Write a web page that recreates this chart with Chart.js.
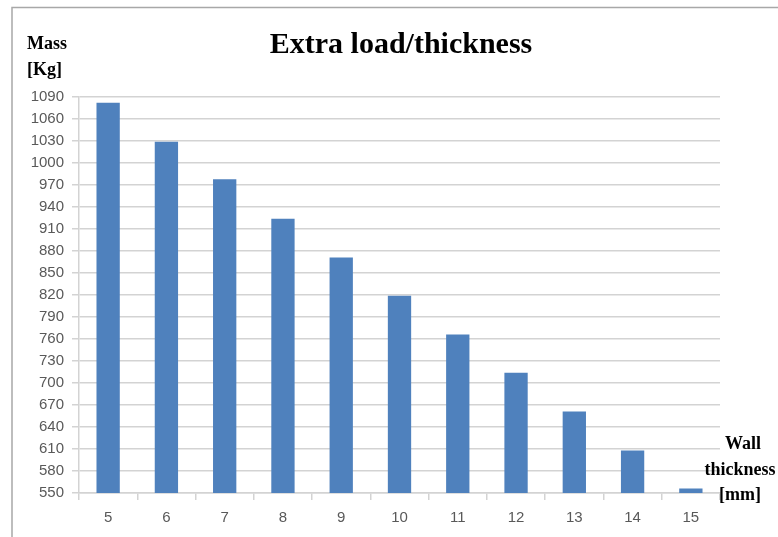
<!DOCTYPE html>
<html>
<head>
<meta charset="utf-8">
<script src="https://cdn.jsdelivr.net/npm/chart.js@4"></script>
<style>
    html, body { margin: 0; padding: 0; background: #ffffff; }
    #wrap { position: relative; width: 778px; height: 537px; }
</style>
</head>
<body>
<div id="wrap"><canvas id="myChart" width="778" height="537"></canvas></div>
<script>
// wall thickness [mm] on x, extra mass [Kg] on y
const thickness = ['5', '6', '7', '8', '9', '10', '11', '12', '13', '14', '15'];
const extraMass = [1082, 1029, 978, 924, 871, 819, 766, 714, 661, 608, 556];
const massMin = 550;
const massMax = 1090;
const massStep = 30;

const titleText = 'Extra load/thickness';
const yTitleLines = ['Mass', '[Kg]'];
const xTitleLines = ['Wall', 'thickness', '[mm]'];

const gridColor = '#d3d3d3';
const tickColor = '#595959';

// frame, title and axis captions drawn straight on the canvas
const decorations = {
    id: 'decorations',
    beforeDraw(chart) {
        const c = chart.ctx;
        c.save();
        c.fillStyle = '#ffffff';
        c.fillRect(0, 0, chart.width, chart.height);
        c.strokeStyle = '#a8a8a8';
        c.lineWidth = 1.5;
        c.beginPath();
        c.moveTo(12, chart.height);
        c.lineTo(12, 7.5);
        c.lineTo(chart.width, 7.5);
        c.stroke();
        c.restore();
    },
    afterDraw(chart) {
        const c = chart.ctx;
        c.save();
        c.fillStyle = '#000000';
        c.textBaseline = 'middle';

        c.font = 'bold 30px "Liberation Serif"';
        c.textAlign = 'center';
        c.fillText(titleText, 401, 45);

        c.font = 'bold 18px "Liberation Serif"';
        c.textAlign = 'left';
        c.fillText(yTitleLines[0], 27, 44);
        c.fillText(yTitleLines[1], 27, 70);

        c.textAlign = 'center';
        c.fillText(xTitleLines[0], 743, 444);
        c.fillText(xTitleLines[1], 740, 470);
        c.fillText(xTitleLines[2], 740, 495);
        c.restore();
    }
};

window.onload = () => {
    const ctx = document.getElementById('myChart');
    window.chart = new Chart(ctx, {
        type: 'bar',
        data: {
            labels: thickness,
            datasets: [
                {
                    label: 'Extra load',
                    data: extraMass,
                    backgroundColor: '#4f81bd',
                    borderWidth: 0,
                    barPercentage: 0.4,
                    categoryPercentage: 1.0
                }
            ]
        },
        options: {
            responsive: false,
            animation: false,
            layout: {
                padding: { top: 97, right: 58, bottom: 0, left: 0 }
            },
            plugins: {
                legend: { display: false },
                tooltip: { enabled: false }
            },
            scales: {
                x: {
                    grid: {
                        offset: true,
                        drawOnChartArea: false,
                        drawTicks: true,
                        tickLength: 7,
                        color: gridColor,
                        lineWidth: 1.5
                    },
                    border: { color: gridColor, width: 1.5 },
                    ticks: {
                        color: tickColor,
                        padding: 9,
                        font: { family: '"Liberation Sans"', size: 15 }
                    },
                    afterFit: (scale) => { scale.height = 44; }
                },
                y: {
                    min: massMin,
                    max: massMax,
                    grid: {
                        color: gridColor,
                        lineWidth: 1.5,
                        tickLength: 7
                    },
                    border: { color: gridColor, width: 1.5 },
                    ticks: {
                        stepSize: massStep,
                        color: tickColor,
                        padding: 8,
                        callback: (value) => String(value),
                        font: { family: '"Liberation Sans"', size: 15 }
                    },
                    afterFit: (scale) => { scale.width = 79; }
                }
            }
        },
        plugins: [decorations]
    });
};
</script>
</body>
</html>
